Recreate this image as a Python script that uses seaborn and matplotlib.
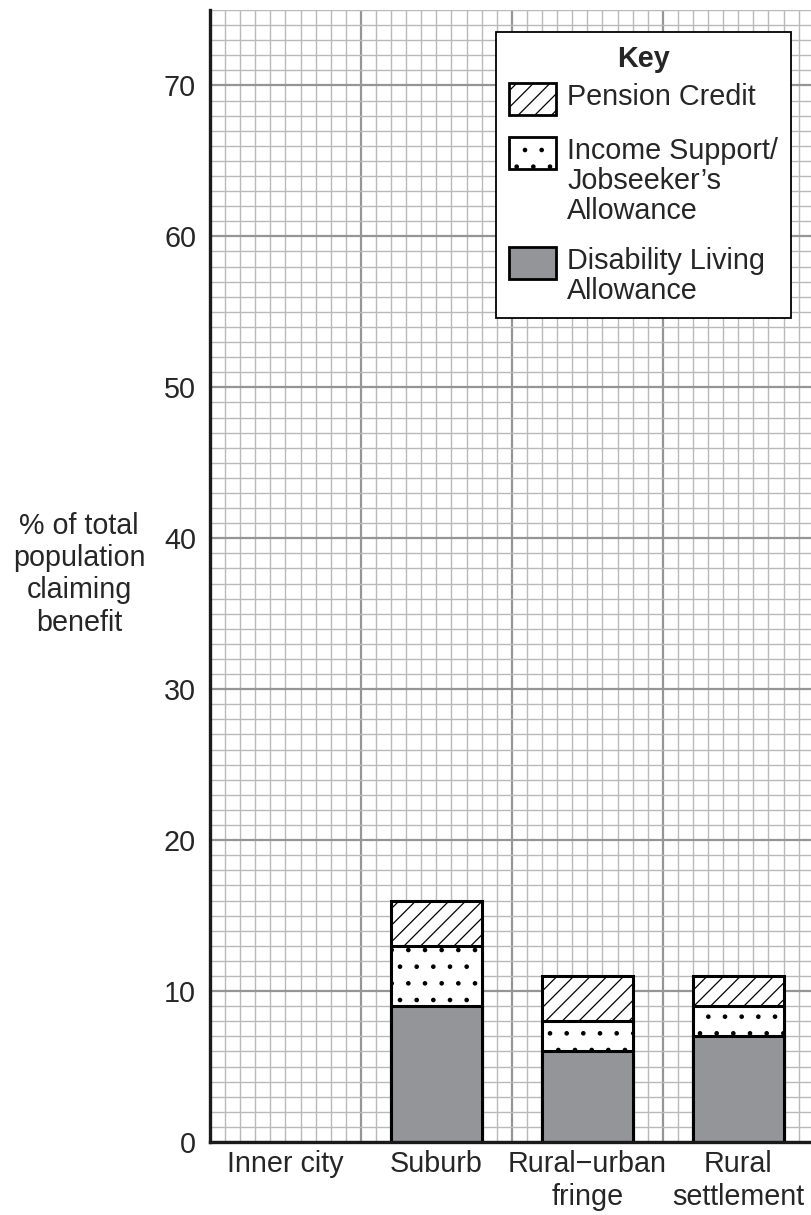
import numpy as np
import pandas as pd
import matplotlib
matplotlib.use('Agg')
import matplotlib.pyplot as plt
from matplotlib.patches import Patch
from matplotlib.ticker import MultipleLocator
import seaborn as sns

# categories along the x axis (Inner city is left blank on the original)
areas = ['Inner city', 'Suburb', 'Rural\u2212urban\nfringe', 'Rural\nsettlement']
area_pos = [5, 15, 25, 35]

# stacked bar values (% of total population claiming benefit)
bar_pos = [15, 25, 35]
dla = [9, 6, 7]                 # Disability Living Allowance
income_support = [4, 2, 2]      # Income Support / Jobseeker's Allowance
pension_credit = [3, 3, 2]      # Pension Credit

y_ticks = [0, 10, 20, 30, 40, 50, 60, 70]

df = pd.DataFrame({'pos': bar_pos, 'dla': dla, 'is': income_support, 'pc': pension_credit})
df['dla_is'] = df['dla'] + df['is']
df['total'] = df['dla_is'] + df['pc']

sns.set_style('white')
plt.rcParams['font.family'] = ['Liberation Sans', 'DejaVu Sans']
plt.rcParams['hatch.linewidth'] = 0.9
plt.rcParams['hatch.color'] = 'black'

fs = 20.7
grey = '#939598'

fig = plt.figure(figsize=(8.11, 12.15), dpi=100)
ax = fig.add_axes([210 / 811, 73 / 1215, 601 / 811, 1132 / 1215])

# stacked bars drawn as overlapping cumulative layers
bar_kw = dict(x='pos', native_scale=True, width=0.6, saturation=1, errorbar=None,
              edgecolor='black', linewidth=2.2, ax=ax)
sns.barplot(data=df, y='total', color='white', hatch='//', **bar_kw)
sns.barplot(data=df, y='dla_is', color='white', hatch='.', **bar_kw)
sns.barplot(data=df, y='dla', color=grey, **bar_kw)

ax.set_xlim(0, 601 / 15.093)
ax.set_ylim(0, 75)

# graph paper grid
ax.set_axisbelow(True)
ax.xaxis.set_major_locator(MultipleLocator(10))
ax.xaxis.set_minor_locator(MultipleLocator(1))
ax.set_yticks(y_ticks)
ax.yaxis.set_minor_locator(MultipleLocator(1))
ax.grid(which='major', color='#959595', lw=1.6)
ax.grid(which='minor', color='#b9b9b9', lw=1.0)
ax.tick_params(which='minor', length=0)
ax.tick_params(which='major', length=5.5, width=0.8, color='#444444', labelsize=fs, pad=4.5)
ax.tick_params(axis='x', labelbottom=False)

for s in ['top', 'right']:
    ax.spines[s].set_visible(False)
for s in ['left', 'bottom']:
    ax.spines[s].set_linewidth(2.4)
    ax.spines[s].set_color('#1a1a1a')

# category labels
sec = ax.secondary_xaxis('bottom')
sec.set_xticks(area_pos, labels=areas)
sec.tick_params(length=0, pad=6, labelsize=fs)
sec.spines['bottom'].set_visible(False)

ax.set_xlabel('')
ax.set_ylabel('% of total\npopulation\nclaiming\nbenefit', rotation=0, fontsize=fs,
              ha='center', va='center', linespacing=1.19)
ax.yaxis.set_label_coords(-0.218, 0.5015)

# key
handles = [Patch(facecolor='white', edgecolor='black', hatch='//', lw=2),
           Patch(facecolor='white', edgecolor='black', hatch='.', lw=2),
           Patch(facecolor=grey, edgecolor='black', lw=2)]
labels = ['Pension Credit', 'Income Support/\nJobseeker\u2019s\nAllowance',
          'Disability Living\nAllowance']
leg = ax.legend(handles, labels, title='Key', loc='upper left',
                bbox_to_anchor=(0.476, 0.9806), fontsize=fs,
                title_fontproperties={'weight': 'bold', 'size': fs},
                frameon=True, fancybox=False, edgecolor='black', framealpha=1,
                handlelength=1.63, handleheight=1.33, handletextpad=0.4,
                labelspacing=0.76, borderpad=0.45, borderaxespad=0)
leg.get_frame().set_linewidth(1.3)
for t in leg.get_texts():
    t.set_linespacing(1.1)
# put each key box level with the first line of its label
for col in leg._legend_handle_box.get_children():
    for item in col.get_children():
        item.align = 'top'
leg._legend_box.sep = 0.36 * fs

plt.savefig('out.png', dpi=100)
